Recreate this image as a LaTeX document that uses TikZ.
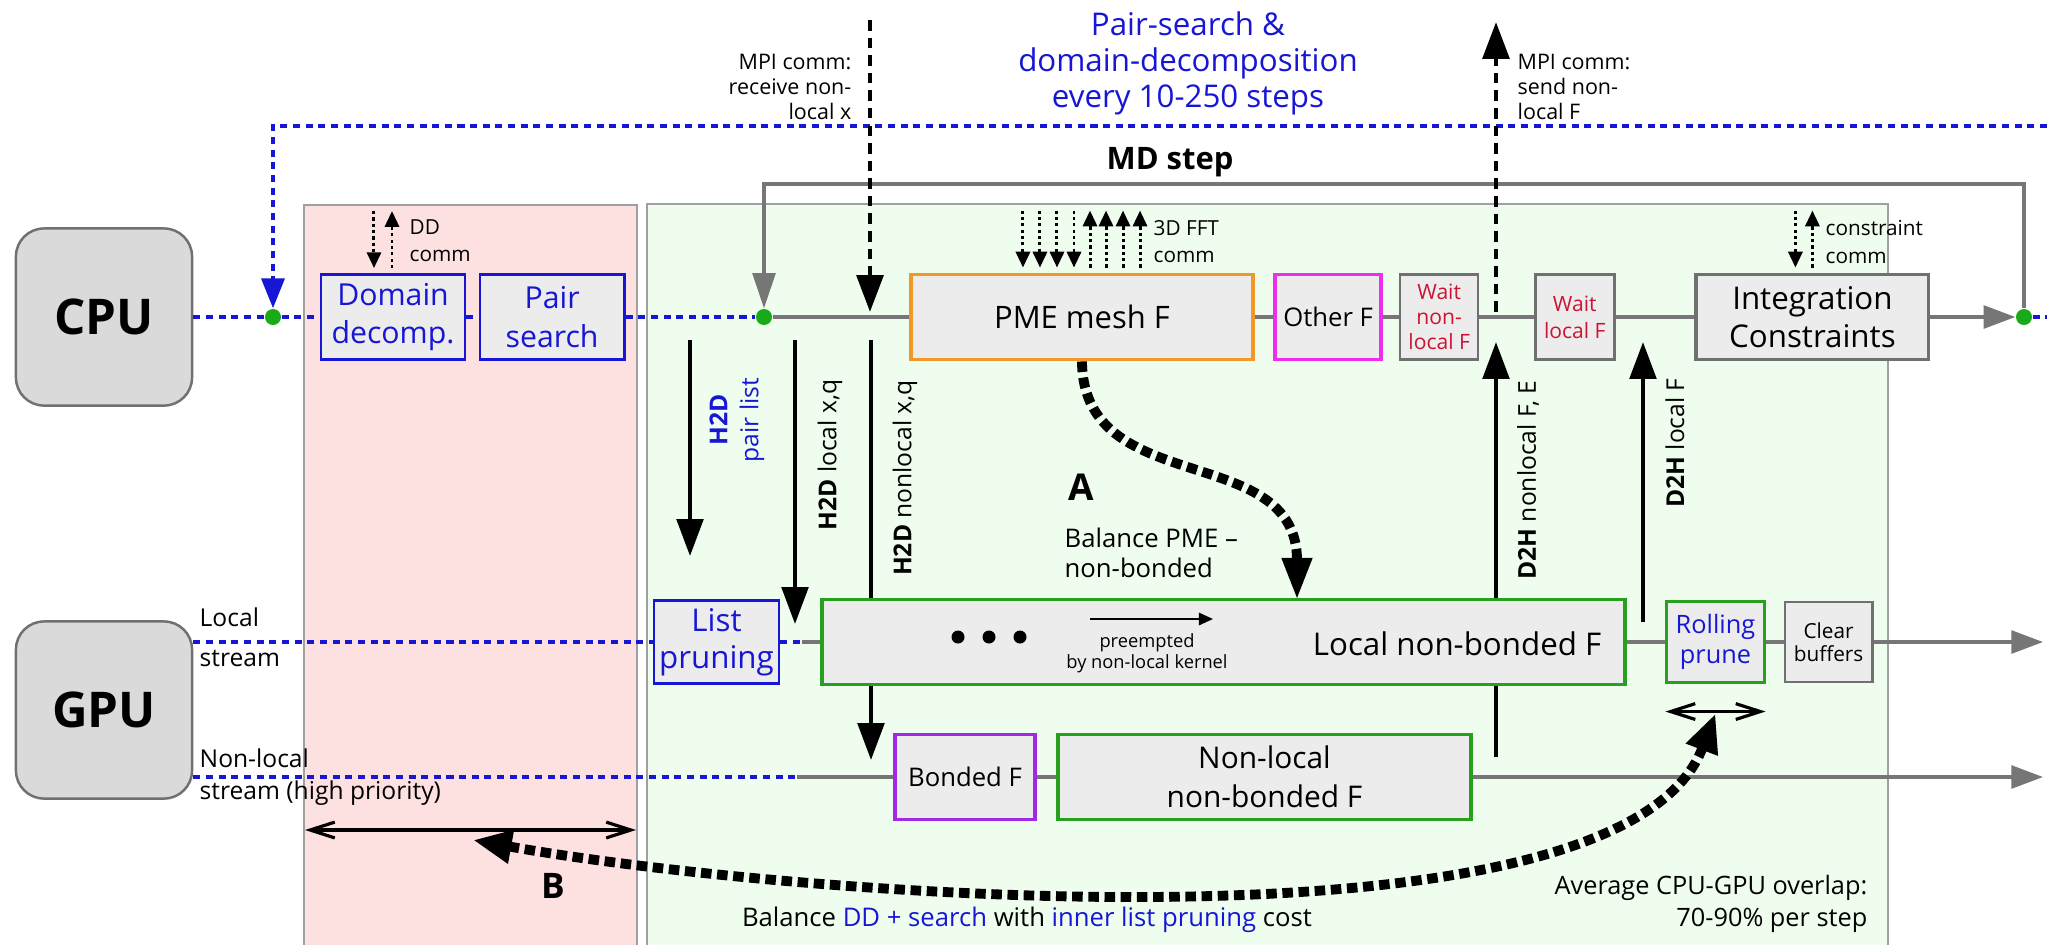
\documentclass[tikz,border=0pt]{standalone}
\usepackage{fontspec}
\setmainfont{Open Sans}
\usetikzlibrary{arrows.meta}

\definecolor{ddblue}{RGB}{22,22,212}
\definecolor{linegray}{RGB}{118,118,118}
\definecolor{boxgray}{RGB}{112,112,112}
\definecolor{boxfill}{RGB}{236,236,236}
\definecolor{unitfill}{RGB}{218,218,218}
\definecolor{dotgreen}{RGB}{24,170,24}
\definecolor{pmeorange}{RGB}{242,152,40}
\definecolor{othermagenta}{RGB}{238,46,238}
\definecolor{bondpurple}{RGB}{160,40,230}
\definecolor{nbgreen}{RGB}{40,160,30}
\definecolor{waitred}{RGB}{204,20,50}
\definecolor{ddpink}{RGB}{253,224,224}
\definecolor{gpugreen}{RGB}{238,253,238}
\definecolor{regiongray}{RGB}{160,160,160}

\newcommand{\setfs}[2]{\fontsize{#1}{#2}\selectfont}

\begin{document}
\begin{tikzpicture}[x=0.01cm, y=-0.01cm,
    unit/.style={rectangle, rounded corners=0.28cm, draw=boxgray, line width=0.7pt, fill=unitfill, minimum width=1.76cm, minimum height=1.77cm, font=\setfs{14}{16}\bfseries},
    box/.style={rectangle, draw=boxgray, line width=0.8pt, fill=boxfill, align=center, inner sep=0pt},
    region/.style={draw=regiongray, line width=0.5pt},
    stepline/.style={draw=linegray, line width=0.9pt},
    ddline/.style={draw=ddblue, line width=1.1pt, dash pattern=on 2pt off 1.6pt},
    dot/.style={circle, fill=dotgreen, inner sep=0pt, minimum size=0.16cm},
    xfer/.style={line width=1.2pt, -{Triangle[length=10.5pt,width=7.5pt]}},
    mpi/.style={line width=1.4pt, dash pattern=on 3pt off 2pt, -{Triangle[length=10.5pt,width=7.5pt]}},
    comm/.style={line width=0.85pt, dash pattern=on 0.9pt off 0.9pt, -{Triangle[length=4.5pt,width=4pt]}},
    balance/.style={line width=2.8pt, dash pattern=on 3pt off 1.6pt},
    span/.style={line width=0.9pt, {Straight Barb[length=7pt,width=4.5pt]}-{Straight Barb[length=7pt,width=4.5pt]}},
    label/.style={inner sep=0pt}]
    \path[use as bounding box, fill=white] (0,0) rectangle (2047,944);

    % DD / search region and the GPU-offload region
    \draw[region, fill=ddpink] (304,205) rectangle (637,950);
    \draw[region, fill=gpugreen] (647,204) rectangle (1888,950);

    \node[unit] (cpu) at (104,317) {CPU};
    \node[unit] (gpu) at (104,710) {GPU};

    \node[dot] (dotL) at (273,317) {};
    \node[dot] (dotM) at (764,317) {};
    \node[dot] (dotR) at (2024,317) {};

    \coordinate (pstop) at (273,126);
    \coordinate (psend) at (2047,126);
    \coordinate (mdline) at (1400,184);
    \coordinate (cpuend) at (2047,317);
    \coordinate (rxtop) at (870,20);
    \coordinate (rxbot) at (870,312);
    \coordinate (txbot) at (1496,312);
    \coordinate (txtop) at (1496,22);
    \coordinate (h2dpl) at (690,340);
    \coordinate (h2dplend) at (690,556);
    \coordinate (h2dl) at (795,340);
    \coordinate (h2dlend) at (795,624);
    \coordinate (h2dnl) at (871,340);
    \coordinate (h2dnlend) at (871,760);
    \coordinate (d2hnl) at (1496,757);
    \coordinate (d2hnlend) at (1496,342);
    \coordinate (d2hl) at (1643,622);
    \coordinate (d2hlend) at (1643,342);
    \coordinate (lsw) at (802,642);
    \coordinate (nlsw) at (797,777);
    \coordinate (lsend) at (2043,642);
    \coordinate (nlsend) at (2043,777);

    % these two run behind the local kernel box
    \draw[xfer] (h2dnl) -- (h2dnlend);
    \draw[xfer] (d2hnl) -- (d2hnlend);

    % CPU tasks
    \node[box, draw=ddblue, text=ddblue, minimum width=1.44cm, minimum height=0.85cm, font=\setfs{8.6}{11}] (dd) at (393,317) {Domain\\decomp.};
    \node[box, draw=ddblue, text=ddblue, minimum width=1.44cm, minimum height=0.85cm, font=\setfs{8.6}{11}, xshift=1.59cm] (ps) at (dd) {Pair\\search};
    \node[box, draw=pmeorange, line width=1.1pt, minimum width=3.42cm, minimum height=0.85cm, font=\setfs{8.8}{10}] (pme) at (1082,317) {PME mesh F};
    \node[box, draw=othermagenta, line width=1pt, minimum width=1.06cm, minimum height=0.85cm, font=\setfs{7.3}{8}, xshift=2.46cm] (other) at (pme) {Other F};
    \node[box, text=waitred, line width=0.7pt, minimum width=0.78cm, minimum height=0.85cm, font=\setfs{6}{7.1}, xshift=1.11cm] (waitnl) at (other) {Wait\\non-\\local F};
    \node[box, text=waitred, line width=0.7pt, minimum width=0.79cm, minimum height=0.85cm, font=\setfs{6}{7.6}, xshift=1.355cm] (waitl) at (waitnl) {Wait\\local F};
    \node[box, line width=1.1pt, minimum width=2.32cm, minimum height=0.85cm, font=\setfs{8.9}{10.9}, xshift=2.375cm] (integ) at (waitl) {Integration\\Constraints};

    % GPU tasks
    \node[box, draw=ddblue, text=ddblue, line width=0.75pt, minimum width=1.25cm, minimum height=0.83cm, font=\setfs{8.9}{10.5}] (lp) at (716.5,642) {List\\pruning};
    \node[box, draw=nbgreen, line width=1.1pt, minimum width=8.03cm, minimum height=0.85cm] (lnb) at (1223.5,642) {};
    \node[box, draw=nbgreen, text=ddblue, line width=0.85pt, minimum width=0.97cm, minimum height=0.8cm, font=\setfs{7.2}{8.5}] (rolling) at (1715.5,642) {Rolling\\prune};
    \node[box, minimum width=0.87cm, minimum height=0.8cm, font=\setfs{5.9}{6.6}, xshift=1.13cm] (clear) at (rolling) {Clear\\buffers};
    \node[box, draw=bondpurple, line width=1pt, minimum width=1.4cm, minimum height=0.85cm, font=\setfs{7.3}{8}] (bonded) at (965,777) {Bonded F};
    \node[box, draw=nbgreen, line width=1.1pt, minimum width=4.13cm, minimum height=0.85cm, font=\setfs{8.5}{11}] (nlnb) at (1264.5,777) {Non-local\\non-bonded F};

    % inside the local kernel box
    \foreach \x in {958,989,1020}
        \fill (\x,637) circle (0.065cm);
    \coordinate (preA) at (1090,619);
    \coordinate (preB) at (1213,619);
    \draw[line width=0.6pt, -{Triangle[length=4pt,width=3.5pt]}] (preA) -- (preB);
    \node[label, align=center, font=\setfs{5.2}{6}] (preempt) at (1147,653) {preempted\\by non-local kernel};
    \node[label, anchor=east, font=\setfs{8.9}{11}] (lnbtxt) at (1602,644) {Local non-bonded F};

    % CPU timeline
    \draw[ddline] (cpu) -- (dotL) -- (dd);
    \draw[ddline] (dd) -- (ps);
    \draw[ddline] (ps) -- (dotM);
    \draw[stepline] (dotM) -- (pme);
    \draw[stepline] (pme) -- (other);
    \draw[stepline] (other) -- (waitnl);
    \draw[stepline] (waitnl) -- (waitl);
    \draw[stepline] (waitl) -- (integ);
    \draw[stepline, -{Triangle[length=9pt,width=6.5pt]}] (integ) -- (dotR);
    \draw[ddline] (dotR) -- (cpuend);
    \draw[stepline, -{Triangle[length=10pt,width=6.5pt]}] (dotR) |- (mdline) -| (dotM);
    \draw[ddline, -{Triangle[length=8.5pt,width=6.5pt]}] (psend) -- (pstop) -- (dotL);

    % GPU streams
    \draw[ddline] (gpu.east |- lp.west) -- (lp.west);
    \draw[ddline] (lp) -- (lsw);
    \draw[stepline] (lsw) -- (lnb);
    \draw[stepline] (lnb) -- (rolling);
    \draw[stepline] (rolling) -- (clear);
    \draw[stepline, -{Triangle[length=9pt,width=6.5pt]}] (clear) -- (lsend);
    \draw[ddline] (gpu.east |- nlsw) -- (nlsw);
    \draw[stepline] (nlsw) -- (bonded);
    \draw[stepline] (bonded) -- (nlnb);
    \draw[stepline, -{Triangle[length=9pt,width=6.5pt]}] (nlnb) -- (nlsend);

    % transfers
    \draw[xfer] (h2dpl) -- (h2dplend);
    \draw[xfer] (h2dl) -- (h2dlend);
    \draw[xfer] (d2hl) -- (d2hlend);
    \draw[mpi] (rxtop) -- (rxbot);
    \draw[mpi] (txbot) -- (txtop);

    % halo / FFT / constraint communication
    \draw[comm] ([xshift=-0.19cm,yshift=0.62cm]dd.north) -- ([xshift=-0.19cm,yshift=0.05cm]dd.north);
    \draw[comm] ([xshift=-0.01cm,yshift=0.05cm]dd.north) -- ([xshift=-0.01cm,yshift=0.62cm]dd.north);
    \foreach \dx in {-0.59,-0.42,-0.25,-0.08}
        \draw[comm] ([xshift=\dx cm,yshift=0.62cm]pme.north) -- ([xshift=\dx cm,yshift=0.05cm]pme.north);
    \foreach \dx in {0.08,0.24,0.41,0.58}
        \draw[comm] ([xshift=\dx cm,yshift=0.05cm]pme.north) -- ([xshift=\dx cm,yshift=0.62cm]pme.north);
    \draw[comm] ([xshift=-0.17cm,yshift=0.62cm]integ.north) -- ([xshift=-0.17cm,yshift=0.05cm]integ.north);
    \draw[comm] ([yshift=0.05cm]integ.north) -- ([yshift=0.62cm]integ.north);

    % load balancing
    \coordinate (atip) at (1297,600);
    \coordinate (btipl) at (473,840);
    \coordinate (btipr) at ([yshift=-0.3cm]rolling.south);
    \draw[span] (305,830) -- (636,830);
    \draw[span] ([yshift=-0.28cm]rolling.south west) -- ([yshift=-0.28cm]rolling.south east);
    \draw[balance, -{Triangle[length=12pt,width=8pt]}] (pme.south) .. controls (1083,500) and (1297,440) .. (atip);
    \draw[balance, {Triangle[length=11pt,width=9pt]}-{Triangle[length=11pt,width=9pt]}] (btipl) .. controls (780,895) and (1620,965) .. (btipr);

    % labels
    \node[label, text=ddblue, align=center, font=\setfs{8.9}{10.2}] (title) at (1188,63) {Pair-search \&\\domain-decomposition\\every 10-250 steps};
    \node[label, font=\setfs{8.8}{10}\bfseries] (mdstep) at (1170,162) {MD step};
    \node[label, anchor=east, align=right, font=\setfs{6.1}{7.1}] (rxlabel) at (852,87) {MPI comm:\\receive non-\\local x};
    \node[label, anchor=west, align=left, font=\setfs{6.1}{7.1}] (txlabel) at (1517,87) {MPI comm:\\send non-\\local F};
    \node[label, anchor=west, align=left, font=\setfs{5.9}{7.7}] (ddcomm) at (409,241) {DD\\comm};
    \node[label, anchor=west, align=left, font=\setfs{5.9}{7.7}] (fftcomm) at (1153,242) {3D FFT\\comm};
    \node[label, anchor=west, align=left, font=\setfs{5.9}{7.7}] (concomm) at (1825,242) {constraint\\comm};
    \node[label, anchor=west, align=left, font=\setfs{7}{11.4}] (lslabel) at (199,637) {Local\\stream};
    \node[label, anchor=west, align=left, font=\setfs{7}{9.1}] (nslabel) at (199,777) {Non-local\\stream (high priority)};
    \node[label, rotate=90, text=ddblue, align=center, font=\setfs{7}{8.8}] (h2dpltxt) at (737,420) {\textbf{H2D}\\pair list};
    \node[label, rotate=90, font=\setfs{7}{8}] (h2dltxt) at (830,455) {\textbf{H2D} local x,q};
    \node[label, rotate=90, font=\setfs{7}{8}] (h2dnltxt) at (905,478) {\textbf{H2D} nonlocal x,q};
    \node[label, rotate=90, font=\setfs{7}{8}] (d2hnltxt) at (1528,480) {\textbf{D2H} nonlocal F, E};
    \node[label, rotate=90, font=\setfs{7}{8}] (d2hltxt) at (1675,443) {\textbf{D2H} local F};
    \node[label, font=\setfs{10.5}{12}\bfseries] (labA) at (1081,487) {A};
    \node[label, anchor=west, align=left, font=\setfs{7.3}{8.5}] (pmebal) at (1064,553) {Balance PME –\\non-bonded};
    \node[label, font=\setfs{10}{12}\bfseries] (labB) at (553,886) {B};
    \node[label, font=\setfs{7.3}{9}] (ddcost) at (1027,920) {Balance \textcolor{ddblue}{DD + search} with \textcolor{ddblue}{inner list pruning} cost};
    \node[label, anchor=east, align=right, font=\setfs{7.2}{9.1}] (overlap) at (1868,904) {Average CPU-GPU overlap:\\70-90\% per step};
\end{tikzpicture}
\end{document}
